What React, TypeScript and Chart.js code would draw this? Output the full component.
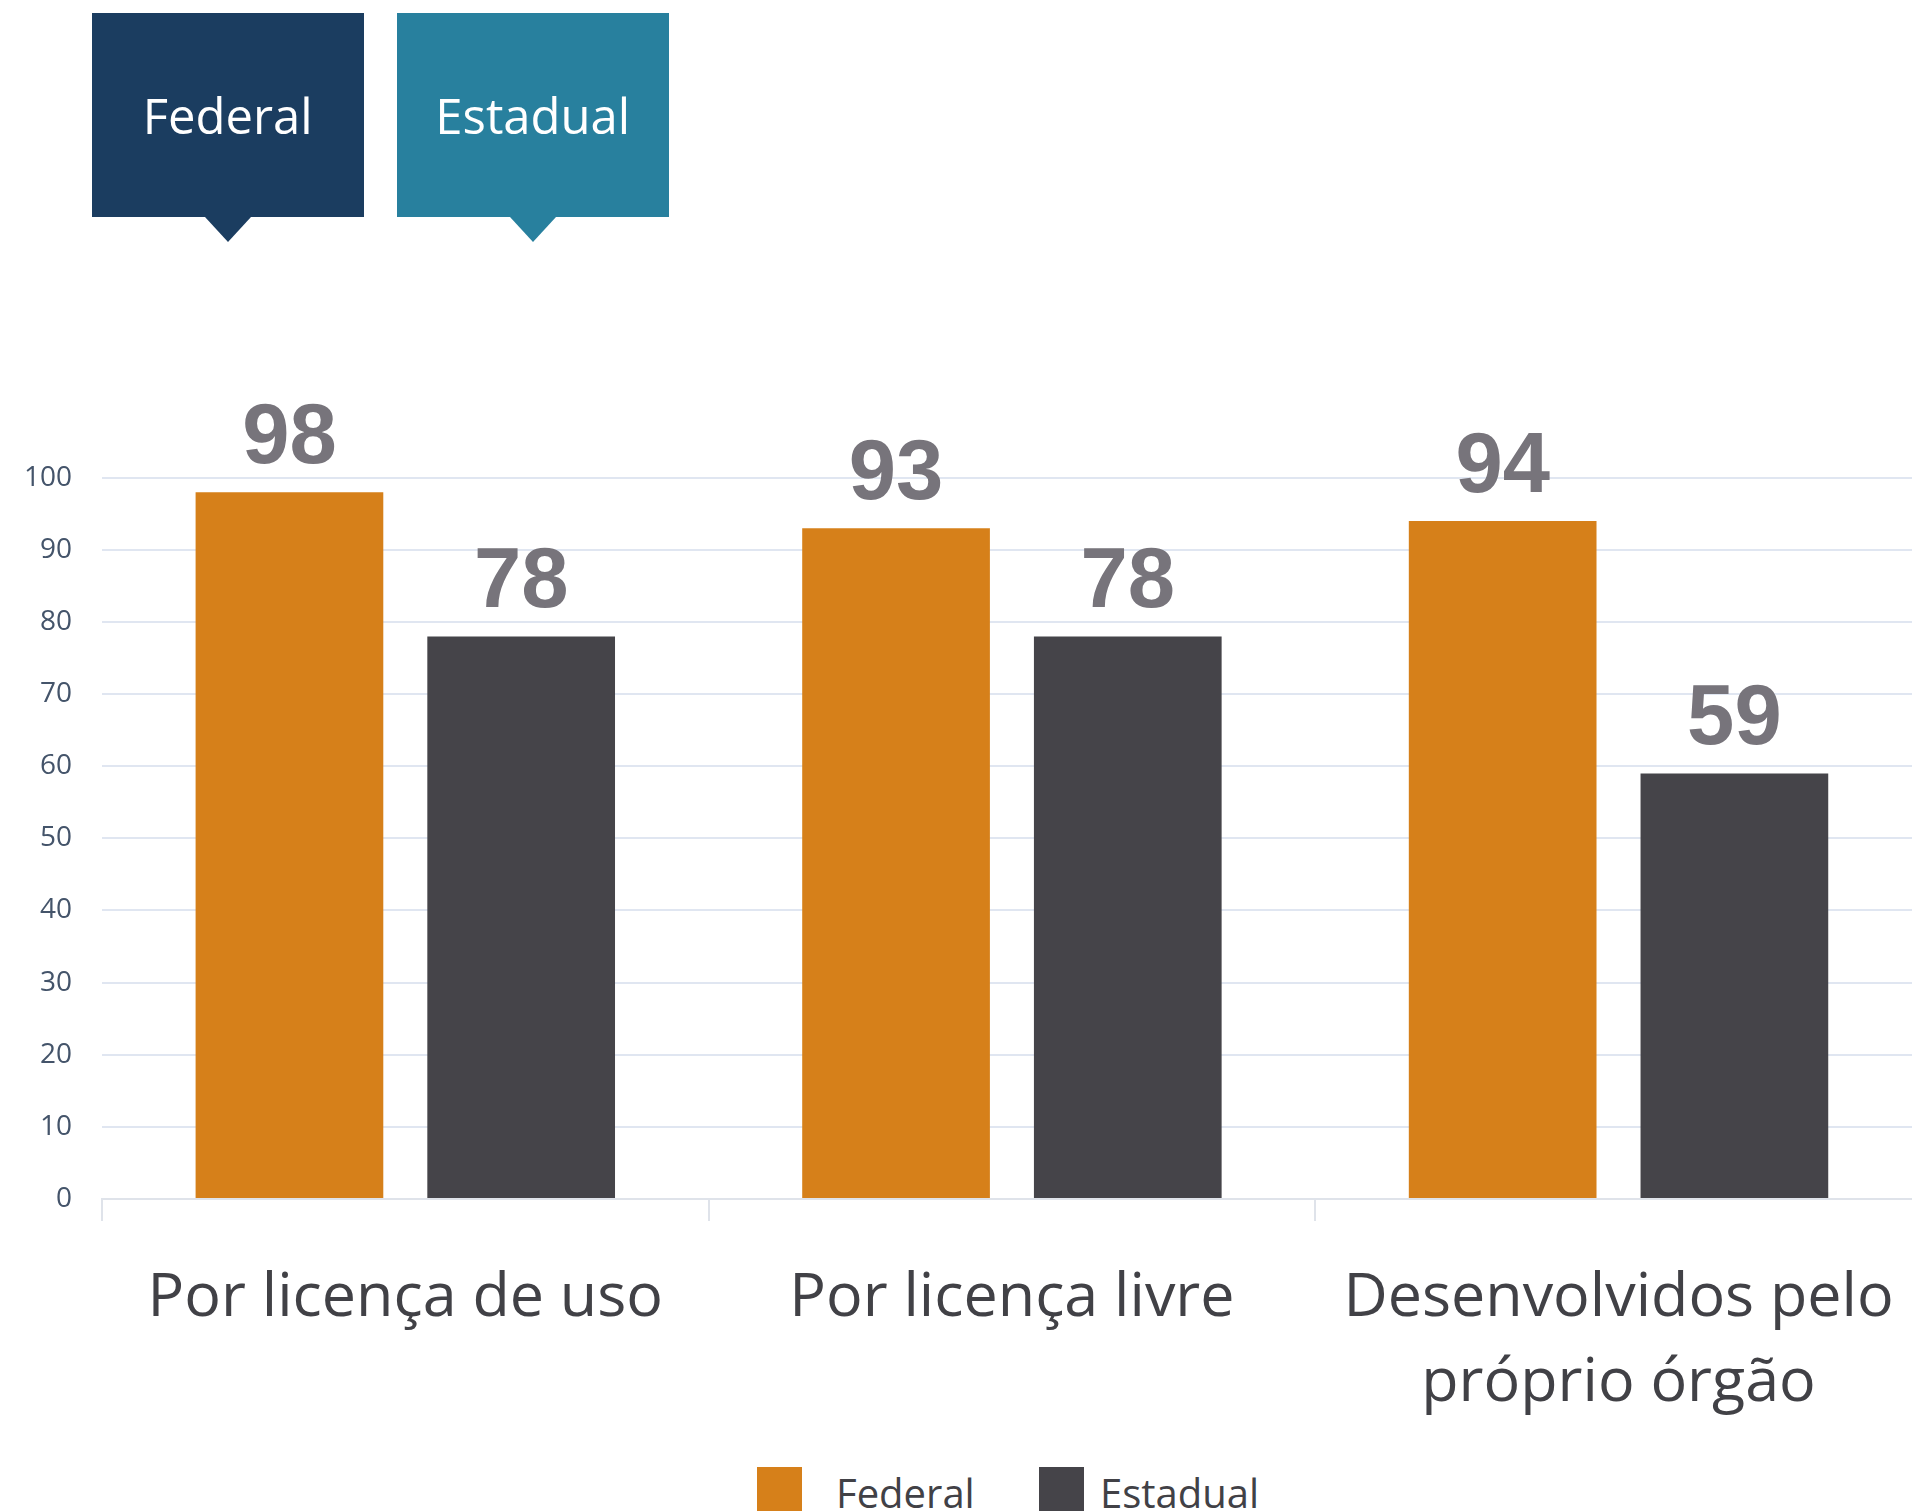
import React, { useEffect, useRef } from 'react';
import { Chart, registerables } from 'chart.js';

Chart.register(...registerables);

// ---- data ----
const categories: (string | string[])[] = [
  'Por licença de uso',
  'Por licença livre',
  ['Desenvolvidos pelo', 'próprio órgão'],
];
const seriesNames = ['Federal', 'Estadual'];
const federalValues = [98, 93, 94];
const estadualValues = [78, 78, 59];
const yMin = 0;
const yMax = 100;
const yStep = 10;

// ---- styles ----
const FEDERAL_COLOR = '#d6801a';
const ESTADUAL_COLOR = '#454449';
const CALLOUT_FEDERAL = '#1b3d60';
const CALLOUT_ESTADUAL = '#28809e';
const GRID_COLOR = '#e0e6f1';
const AXIS_COLOR = '#dfe3ea';
const TEXT_DARK = '#414146';

const CANVAS_W = 1930;
const CANVAS_H = 1429;

const valueLabelPlugin = {
  id: 'valueLabels',
  afterDatasetsDraw(chart: any) {
    const ctx = chart.ctx;
    ctx.save();
    ctx.font = 'bold 85px "Liberation Sans", Arial, sans-serif';
    ctx.fillStyle = '#77747b';
    ctx.textAlign = 'center';
    ctx.textBaseline = 'alphabetic';
    chart.data.datasets.forEach((ds: any, di: number) => {
      const meta = chart.getDatasetMeta(di);
      meta.data.forEach((el: any, i: number) => {
        const v = ds.data[i];
        ctx.fillText(String(v), el.x, el.y - 29);
      });
    });
    ctx.restore();
  },
};

function Callout({ left, width, color, text }: { left: number; width: number; color: string; text: string }) {
  const center = width / 2;
  return (
    <div style={{ position: 'absolute', left, top: 13, width, height: 204 }}>
      <div
        style={{
          position: 'absolute',
          inset: 0,
          background: color,
          display: 'flex',
          alignItems: 'center',
          justifyContent: 'center',
          color: '#ffffff',
          fontFamily: '"Open Sans", sans-serif',
          fontSize: 49,
          lineHeight: 'normal',
        }}
      >
        {text}
      </div>
      <div
        style={{
          position: 'absolute',
          left: center - 23,
          top: 204,
          width: 0,
          height: 0,
          borderLeft: '23px solid transparent',
          borderRight: '23px solid transparent',
          borderTop: `25px solid ${color}`,
        }}
      />
    </div>
  );
}

export default function App() {
  const canvasRef = useRef<HTMLCanvasElement | null>(null);

  useEffect(() => {
    if (!canvasRef.current) return;
    const chart = new Chart(canvasRef.current, {
      type: 'bar',
      data: {
        labels: categories,
        datasets: [
          {
            label: seriesNames[0],
            data: federalValues,
            backgroundColor: FEDERAL_COLOR,
            borderWidth: 0,
            categoryPercentage: 0.764,
            barPercentage: 0.81,
          },
          {
            label: seriesNames[1],
            data: estadualValues,
            backgroundColor: ESTADUAL_COLOR,
            borderWidth: 0,
            categoryPercentage: 0.764,
            barPercentage: 0.81,
          },
        ],
      },
      options: {
        responsive: false,
        animation: false,
        devicePixelRatio: 1,
        layout: { padding: { top: 477.7, left: 0, right: 8, bottom: 0 } },
        plugins: {
          legend: { display: false },
          tooltip: { enabled: false },
        },
        scales: {
          x: {
            offset: true,
            grid: {
              display: true,
              drawOnChartArea: false,
              drawTicks: true,
              tickLength: 22,
              color: AXIS_COLOR,
              lineWidth: 2,
            },
            border: { display: true, color: AXIS_COLOR, width: 2 },
            ticks: {
              autoSkip: false,
              maxRotation: 0,
              minRotation: 0,
              padding: 35,
              color: TEXT_DARK,
              font: { family: '"Open Sans", sans-serif', size: 61, lineHeight: 1.393 },
            },
            afterFit(scale: any) {
              scale.height = 230;
            },
          },
          y: {
            min: yMin,
            max: yMax,
            grid: {
              color: GRID_COLOR,
              lineWidth: 2,
              drawTicks: false,
            },
            border: { display: false },
            ticks: {
              stepSize: yStep,
              padding: 30,
              color: '#44546a',
              font: { family: '"Open Sans", sans-serif', size: 28 },
            },
            afterFit(scale: any) {
              scale.width = 102;
            },
          },
        },
      },
      plugins: [valueLabelPlugin],
    });
    return () => chart.destroy();
  }, []);

  return (
    <div style={{ position: 'relative', width: 1912, height: 1511, overflow: 'hidden', background: '#ffffff' }}>
      <style>{`body{margin:0;}`}</style>
      <canvas
        ref={canvasRef}
        width={CANVAS_W}
        height={CANVAS_H}
        style={{ position: 'absolute', left: 0, top: 0, width: CANVAS_W, height: CANVAS_H }}
      />
      <Callout left={91.5} width={272.5} color={CALLOUT_FEDERAL} text={seriesNames[0]} />
      <Callout left={396.5} width={272.5} color={CALLOUT_ESTADUAL} text={seriesNames[1]} />
      {/* legend */}
      <div style={{ position: 'absolute', left: 757, top: 1467, width: 45, height: 45, background: FEDERAL_COLOR }} />
      <div
        style={{
          position: 'absolute',
          left: 836,
          top: 1473,
          fontFamily: '"Open Sans", sans-serif',
          fontSize: 40,
          lineHeight: '40px',
          color: TEXT_DARK,
          whiteSpace: 'nowrap',
        }}
      >
        {seriesNames[0]}
      </div>
      <div style={{ position: 'absolute', left: 1039, top: 1467, width: 45, height: 45, background: ESTADUAL_COLOR }} />
      <div
        style={{
          position: 'absolute',
          left: 1100,
          top: 1473,
          fontFamily: '"Open Sans", sans-serif',
          fontSize: 40,
          lineHeight: '40px',
          color: TEXT_DARK,
          whiteSpace: 'nowrap',
        }}
      >
        {seriesNames[1]}
      </div>
    </div>
  );
}
